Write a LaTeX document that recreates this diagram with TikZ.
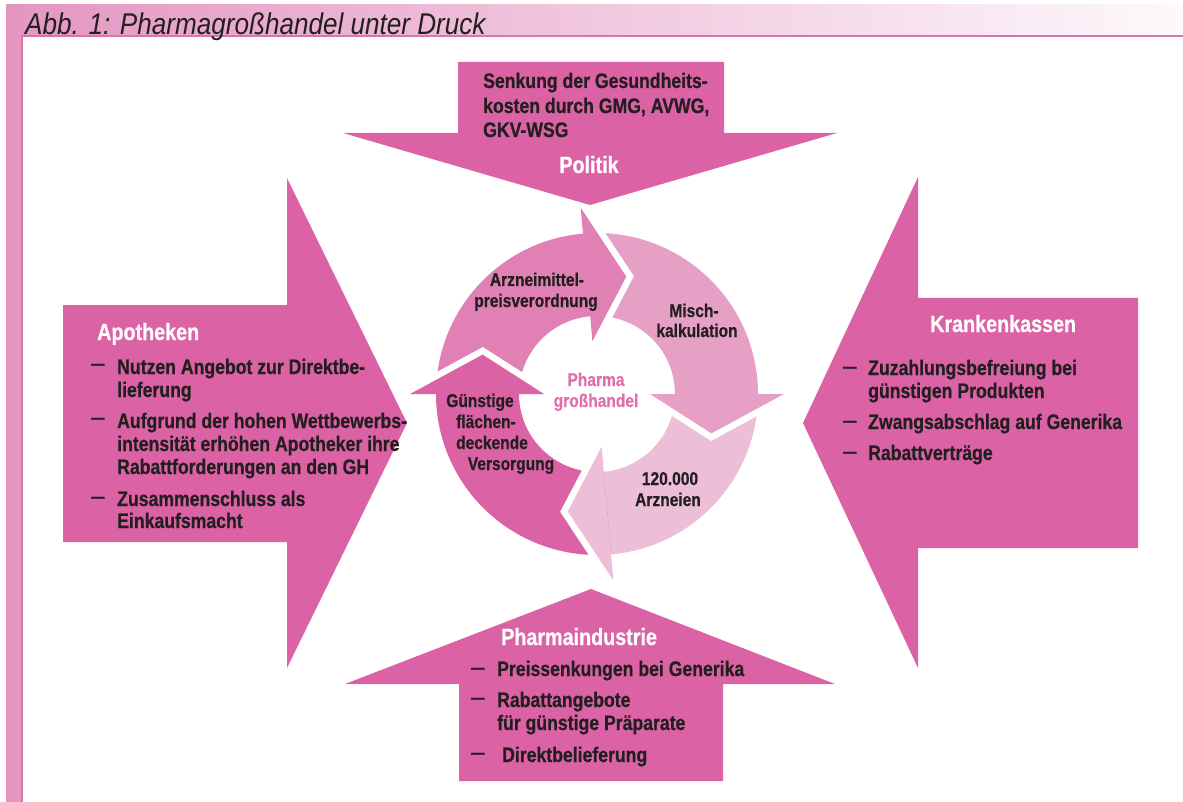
\documentclass[tikz,border=0pt]{standalone}
\usepackage{fontspec}
\setmainfont{Liberation Sans}[FakeStretch=0.84, BoldFeatures={FakeBold=0.6}]
\newfontfamily\titlefont{Liberation Sans}[FakeStretch=0.87]

\definecolor{arrowpink}{RGB}{219,98,164}
\definecolor{segA}{RGB}{224,128,180}
\definecolor{segB}{RGB}{230,160,198}
\definecolor{segC}{RGB}{237,190,216}
\definecolor{segD}{RGB}{219,98,164}
\definecolor{textdark}{RGB}{35,31,32}
\definecolor{centerpink}{RGB}{225,110,170}
\definecolor{barpink}{RGB}{228,150,193}
\definecolor{barline}{RGB}{220,116,172}
\definecolor{bandright}{RGB}{253,249,252}

\begin{document}
\begin{tikzpicture}[x=1pt,y=-1pt,
  itemline/.style={anchor=base west, inner sep=0pt, text=textdark,
    font=\fontsize{21}{24}\selectfont\bfseries},
  headline/.style={anchor=base west, inner sep=0pt, text=white,
    font=\fontsize{23.5}{27}\selectfont\bfseries},
  dashmark/.style={anchor=base west, inner sep=0pt, text=textdark,
    font=\fontsize{16}{18}\selectfont\bfseries},
  cycleline/.style={anchor=base, inner sep=0pt, text=textdark,
    font=\fontsize{18.5}{21}\selectfont\bfseries},
  hubline/.style={cycleline, text=centerpink},
  bigarrow/.style={fill=arrowpink},
  halo/.style={draw=white, line width=13pt, line join=miter, line cap=butt}
]
\useasboundingbox (0,0) rectangle (1183,802);

% frame: title band and left bar
\shade[left color=barpink, right color=bandright] (6,5) rectangle (1183,37);
\fill[barpink] (6,5) rectangle (22,802);
\fill[barline] (21,35.5) rectangle (1183,37.2);
\fill[barline] (21,35.5) rectangle (22.6,802);
\node[anchor=base west, inner sep=0pt, text=textdark,
  font=\titlefont\itshape\fontsize{30}{34}\selectfont] (title) at (25,35)
  {Abb. 1: Pharmagroßhandel unter Druck};

% four outer arrows
\fill[bigarrow] (458,62) -- (724,62) -- (724,133) -- (837,133) -- (590,205)
  -- (343,133) -- (458,133) -- cycle;
\fill[bigarrow] (63,305) -- (287,305) -- (287,178) -- (407,423) -- (287,668)
  -- (287,542) -- (63,542) -- cycle;
\fill[bigarrow] (1138,298) -- (918,298) -- (918,177) -- (803,423) -- (918,668)
  -- (918,548) -- (1138,548) -- cycle;
\fill[bigarrow] (459,781) -- (459,684) -- (345,684) -- (591,589) -- (835,684)
  -- (723,684) -- (723,781) -- cycle;

% circular cycle of four curved arrows
\begin{scope}[shift={(597,394)}, y=1pt]
  % ring bodies
  \fill[segA] (180:161) arc[start angle=180, end angle=92, radius=161]
    -- (92:78) arc[start angle=92, end angle=180, radius=78] -- cycle;
  \fill[segB] (95:161) arc[start angle=95, end angle=-3, radius=161]
    -- (-3:78) arc[start angle=-3, end angle=95, radius=78] -- cycle;
  \fill[segC] (0:161) arc[start angle=0, end angle=-88, radius=161]
    -- (-88:78) arc[start angle=-88, end angle=0, radius=78] -- cycle;
  \fill[segD] (-85:161) arc[start angle=-85, end angle=-183, radius=161]
    -- (-183:78) arc[start angle=-183, end angle=-85, radius=78] -- cycle;
  % arrow heads with a white gap on their leading edges
  \foreach \b/\c in {95/segA, 0/segB, -85/segC, 180/segD}{
    \draw[halo] (\b:187) -- (\b-19:121) -- (\b:53);
    \fill[\c] (\b:187) -- (\b-19:121) -- (\b:53) -- cycle;
  }
\end{scope}

% Politik
\node[itemline] (pol1) at (483,88) {Senkung der Gesundheits-};
\node[itemline] (pol2) at (483,113) {kosten durch GMG, AVWG,};
\node[itemline] (pol3) at (483,137) {GKV-WSG};
\node[headline, anchor=base] (polh) at (589,173) {Politik};

% Apotheken
\node[headline] (apoh) at (97,340) {Apotheken};
\node[dashmark] (apod1) at (91,369) {—};
\node[itemline] (apo1a) at (117,374) {Nutzen Angebot zur Direktbe-};
\node[itemline] (apo1b) at (117,397) {lieferung};
\node[dashmark] (apod2) at (91,423) {—};
\node[itemline] (apo2a) at (117,428) {Aufgrund der hohen Wettbewerbs-};
\node[itemline] (apo2b) at (117,451) {intensität erhöhen Apotheker ihre};
\node[itemline] (apo2c) at (117,474) {Rabattforderungen an den GH};
\node[dashmark] (apod3) at (91,502) {—};
\node[itemline] (apo3a) at (117,506) {Zusammenschluss als};
\node[itemline] (apo3b) at (117,528) {Einkaufsmacht};

% Krankenkassen
\node[headline] (kkh) at (930,332) {Krankenkassen};
\node[dashmark] (kkd1) at (843,372) {—};
\node[itemline] (kk1a) at (868,375) {Zuzahlungsbefreiung bei};
\node[itemline] (kk1b) at (868,398) {günstigen Produkten};
\node[dashmark] (kkd2) at (843,426) {—};
\node[itemline] (kk2) at (868,429) {Zwangsabschlag auf Generika};
\node[dashmark] (kkd3) at (843,457) {—};
\node[itemline] (kk3) at (868,460) {Rabattverträge};

% Pharmaindustrie
\node[headline] (pih) at (501,645) {Pharmaindustrie};
\node[dashmark] (pid1) at (471,673) {—};
\node[itemline] (pi1) at (497,676) {Preissenkungen bei Generika};
\node[dashmark] (pid2) at (471,703) {—};
\node[itemline] (pi2a) at (497,707) {Rabattangebote};
\node[itemline] (pi2b) at (497,730) {für günstige Präparate};
\node[dashmark] (pid3) at (471,758) {—};
\node[itemline] (pi3) at (502,762) {Direktbelieferung};

% labels inside the cycle
\node[cycleline] (ca1) at (537,286) {Arzneimittel-};
\node[cycleline] (ca2) at (536,307) {preisverordnung};
\node[cycleline] (cb1) at (694,317) {Misch-};
\node[cycleline] (cb2) at (697,337) {kalkulation};
\node[cycleline] (cc1) at (670,485) {120.000};
\node[cycleline] (cc2) at (668,506) {Arzneien};
\node[cycleline] (cd1) at (480,407) {Günstige};
\node[cycleline] (cd2) at (486,428) {flächen-};
\node[cycleline] (cd3) at (492,449) {deckende};
\node[cycleline] (cd4) at (511,470) {Versorgung};
\node[hubline] (hub1) at (596,386) {Pharma};
\node[hubline] (hub2) at (596,407) {großhandel};
\end{tikzpicture}
\end{document}
